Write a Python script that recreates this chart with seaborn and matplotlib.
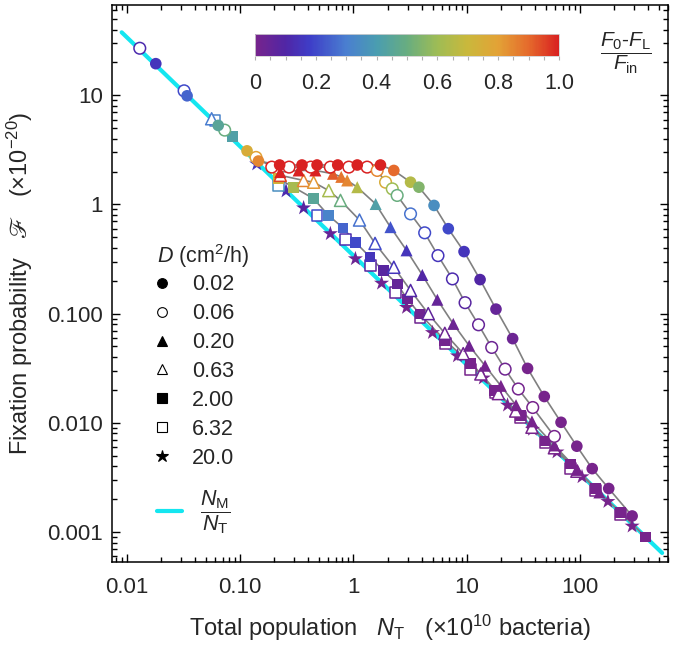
import numpy as np
import pandas as pd
import matplotlib
matplotlib.use("Agg")
import matplotlib.pyplot as plt
import seaborn as sns
from matplotlib.colors import LinearSegmentedColormap, Normalize
from matplotlib.lines import Line2D
from matplotlib.ticker import FixedLocator, FixedFormatter, LogLocator, NullFormatter, MultipleLocator

sns.set_style("ticks")
plt.rcParams["font.family"] = ["Liberation Sans", "DejaVu Sans"]
plt.rcParams["mathtext.fontset"] = "custom"
plt.rcParams["mathtext.rm"] = "Liberation Sans"
plt.rcParams["mathtext.it"] = "Liberation Sans:italic"
plt.rcParams["mathtext.bf"] = "Liberation Sans:bold"
plt.rcParams["mathtext.fallback"] = "stix"

# ---- data ----
# D = 0.02 (filled circles)
nt_002 = [0.018, 0.034, 0.064, 0.115, 0.145, 0.223, 0.351, 0.477, 0.726, 1.08, 1.73, 2.27, 3.19, 3.78,
          5.14, 6.87, 9.46, 13.1, 18.1, 25.4, 34.4, 48.3, 67.9, 93.6, 128, 179, 288]
fp_002 = [19.5, 9.9, 5.3, 3.1, 2.5, 2.3, 2.3, 2.3, 2.3, 2.3, 2.3, 2.05, 1.6, 1.44,
          0.98, 0.60, 0.37, 0.205, 0.11, 0.059, 0.0315, 0.0174, 0.0101, 0.0061, 0.0038, 0.0025, 0.0014]
cv_002 = [0.15, 0.25, 0.45, 0.75, 0.85, 1, 1, 1, 1, 1, 1, 0.9, 0.65, 0.55,
          0.35, 0.2, 0.15, 0.1, 0.05, 0.03, 0, 0, 0, 0, 0, 0, 0]

# D = 0.06 (open circles)
nt_006 = [0.013, 0.032, 0.073, 0.138, 0.19, 0.27, 0.42, 0.625, 0.91, 1.32, 1.62, 1.92, 2.2, 2.43,
          3.19, 4.25, 5.57, 7.47, 9.66, 12.7, 16.6, 21.8, 28.5, 38.2, 59.3]
fp_006 = [27, 11, 4.8, 2.7, 2.2, 2.2, 2.2, 2.2, 2.2, 2.2, 2.05, 1.6, 1.39, 1.21,
          0.82, 0.55, 0.34, 0.208, 0.126, 0.079, 0.049, 0.031, 0.0204, 0.0138, 0.0075]
cv_006 = [0.12, 0.2, 0.5, 0.8, 1, 1, 1, 1, 1, 1, 0.85, 0.75, 0.6, 0.5,
          0.28, 0.2, 0.15, 0.12, 0.08, 0.05, 0.03, 0.02, 0.01, 0, 0]

# D = 0.20 (filled triangles)
nt_020 = [0.226, 0.328, 0.461, 0.66, 0.78, 0.88, 1.08, 1.57, 2.12, 2.94, 4.05, 5.5, 7.6, 10.5,
          14.5, 20, 27.2, 37.6, 59.3, 95, 148]
fp_020 = [1.98, 2.05, 2.05, 1.91, 1.79, 1.66, 1.44, 1.01, 0.62, 0.38, 0.226, 0.134, 0.0805, 0.0508,
          0.0333, 0.0218, 0.0145, 0.0103, 0.0062, 0.0037, 0.0023]
cv_020 = [1, 1, 1, 0.92, 0.88, 0.85, 0.65, 0.42, 0.22, 0.15, 0.1, 0.05, 0.03, 0.02,
          0.01, 0, 0, 0, 0, 0, 0]

# D = 0.63 (open triangles)
nt_063 = [0.056, 0.226, 0.363, 0.445, 0.605, 0.768, 1.13, 1.55, 2.27, 3.19, 4.57, 6.4, 9.3, 13.3,
          19, 27, 37.6, 59.3, 93.6]
fp_063 = [6.1, 1.85, 1.66, 1.6, 1.34, 1.09, 0.72, 0.44, 0.266, 0.163, 0.10, 0.066, 0.043, 0.028,
          0.0185, 0.0128, 0.0091, 0.0059, 0.0036]
cv_063 = [0.3, 0.95, 0.85, 0.82, 0.62, 0.5, 0.28, 0.2, 0.15, 0.1, 0.06, 0.03, 0.02, 0.01,
          0, 0, 0, 0, 0]

# D = 2.00 (filled squares)
nt_200 = [0.085, 0.218, 0.296, 0.445, 0.605, 0.81, 1.04, 1.4, 1.83, 2.43, 2.98, 3.86, 6.4, 10.8,
          17.7, 29.6, 49, 81.7, 136, 228, 378]
fp_200 = [4.2, 1.72, 1.44, 1.13, 0.79, 0.61, 0.45, 0.33, 0.248, 0.187, 0.136, 0.099, 0.057, 0.035,
          0.0199, 0.0116, 0.0068, 0.0042, 0.0025, 0.0015, 0.0009]
cv_200 = [0.42, 0.72, 0.62, 0.45, 0.32, 0.25, 0.2, 0.15, 0.08, 0.05, 0.03, 0.02, 0.01, 0,
          0, 0, 0, 0, 0, 0, 0]

# D = 6.32 (open squares)
nt_632 = [0.06, 0.218, 0.476, 0.85, 1.41, 2.36, 3.86, 6.5, 10.8, 17.8, 29.6, 49, 81.7, 136, 228]
fp_632 = [5.9, 1.49, 0.79, 0.474, 0.275, 0.157, 0.092, 0.053, 0.031, 0.019, 0.0112, 0.0066,
          0.0038, 0.0024, 0.00145]
cv_632 = [0.32, 0.35, 0.2, 0.12, 0.08, 0.05, 0.02, 0.01, 0, 0, 0, 0, 0, 0, 0]

# D = 20.0 (stars)
nt_20 = [0.14, 0.254, 0.363, 0.625, 1.04, 1.77, 2.94, 4.98, 8.28, 14, 22.9, 38, 62.5, 104, 176, 288]
fp_20 = [2.35, 1.33, 0.93, 0.54, 0.318, 0.19, 0.114, 0.067, 0.041, 0.0257, 0.0145, 0.0087,
         0.0054, 0.0032, 0.0019, 0.00113]
cv_20 = [0.15, 0.12, 0.08, 0.05, 0.03, 0.02, 0.01, 0, 0, 0, 0, 0, 0, 0, 0, 0]

# N_M / N_T reference line
n_m = 0.34
nt_ref = [0.009, 530]

d_labels = ["0.02", "0.06", "0.20", "0.63", "2.00", "6.32", "20.0"]

x_ticks = [0.01, 0.1, 1, 10, 100]
x_ticklabels = ["0.01", "0.10", "1", "10", "100"]
y_ticks = [0.001, 0.01, 0.1, 1, 10]
y_ticklabels = ["0.001", "0.010", "0.100", "1", "10"]

# ---- style ----
cmap = LinearSegmentedColormap.from_list("rainbow_m", [
    (0.00, "#77248c"), (0.10, "#5026a6"), (0.18, "#3e3ec8"), (0.30, "#4a7fd0"),
    (0.40, "#4a9db0"), (0.50, "#68ad80"), (0.60, "#9ebc55"), (0.70, "#cab83c"),
    (0.80, "#e3a236"), (0.90, "#e56b2c"), (1.00, "#d92121")])
norm = Normalize(0, 1)
cyan = "#14e6f0"

fig = plt.figure(figsize=(6.75, 6.46), dpi=100)
ax = fig.add_axes([0.166, 0.130, 0.824, 0.862])

ref = pd.DataFrame({"nt": nt_ref, "f": [n_m / v for v in nt_ref]})
sns.lineplot(data=ref, x="nt", y="f", color=cyan, lw=3, ax=ax, zorder=1)

series = [
    (nt_20, fp_20, cv_20, "*", False, 130, None),
    (nt_632, fp_632, cv_632, "s", True, 60, None),
    (nt_200, fp_200, cv_200, "s", False, 60, 1),
    (nt_063, fp_063, cv_063, "^", True, 75, 1),
    (nt_020, fp_020, cv_020, "^", False, 75, 0),
    (nt_006, fp_006, cv_006, "o", True, 70, 3),
    (nt_002, fp_002, cv_002, "o", False, 70, 3),
]

for nt, fp, cv, mk, hollow, size, line_from in series:
    df = pd.DataFrame({"nt": nt, "f": fp, "c": cv})
    if line_from is not None:
        sns.lineplot(data=df.iloc[line_from:], x="nt", y="f", color="#808080", lw=1.2,
                     sort=True, estimator=None, ax=ax, zorder=2)
    sns.scatterplot(data=df, x="nt", y="f", hue="c", palette=cmap, hue_norm=(0, 1),
                    marker=mk, s=size, linewidth=0, legend=False, ax=ax, zorder=3)
    if hollow:
        coll = ax.collections[-1]
        fc = coll.get_facecolors()
        coll.set_facecolor("white")
        coll.set_edgecolor(fc)
        coll.set_linewidth(1.1)

ax.set_xscale("log")
ax.set_yscale("log")
ax.set_xlim(0.0074, 600)
ax.set_ylim(0.00053, 67)

ax.xaxis.set_major_locator(FixedLocator(x_ticks))
ax.xaxis.set_major_formatter(FixedFormatter(x_ticklabels))
ax.yaxis.set_major_locator(FixedLocator(y_ticks))
ax.yaxis.set_major_formatter(FixedFormatter(y_ticklabels))
ax.xaxis.set_minor_locator(LogLocator(base=10, subs=np.arange(2, 10), numticks=20))
ax.yaxis.set_minor_locator(LogLocator(base=10, subs=np.arange(2, 10), numticks=20))
ax.xaxis.set_minor_formatter(NullFormatter())
ax.yaxis.set_minor_formatter(NullFormatter())
ax.tick_params(which="both", direction="in", top=True, right=True, color="black",
               width=1, labelsize=16)
ax.tick_params(axis="x", pad=10.5)
ax.tick_params(axis="y", pad=6.5)
ax.tick_params(which="major", length=6)
ax.tick_params(which="minor", length=3.5)
for sp in ax.spines.values():
    sp.set_linewidth(1.1)
    sp.set_color("black")

ax.set_xlabel(r"Total population   $N_\mathrm{T}$   (×10$^{10}$ bacteria)", fontsize=17, labelpad=11)
ax.set_ylabel("Fixation probability   $\u2131$   (×10$^{-20}$)", fontsize=17, labelpad=9)

# legend for D values
markers = ["o", "o", "^", "^", "s", "s", "*"]
hollows = [False, True, False, True, False, True, False]
msizes = [7, 7, 7.5, 7.5, 6.5, 6.5, 9]
handles = [Line2D([], [], ls="none", marker=m, ms=s, mec="black", mew=0.8,
                  mfc="white" if h else "black")
           for m, h, s in zip(markers, hollows, msizes)]
ax.text(0.081, 0.549, r"$D$ (cm$^2$/h)", transform=ax.transAxes, fontsize=15.5,
        ha="left", va="center")
leg = ax.legend(handles, d_labels, loc="upper left",
                bbox_to_anchor=(0.081, 0.517), frameon=False, fontsize=15.5,
                handlelength=0.47, handletextpad=1.16, labelspacing=0.37,
                borderpad=0, borderaxespad=0)
ax.add_artist(leg)
leg2 = ax.legend([Line2D([], [], color=cyan, lw=3)],
                 [r"$\dfrac{N_\mathrm{M}}{N_\mathrm{T}}$"], loc="center left",
                 bbox_to_anchor=(0.081, 0.09), frameon=False, fontsize=15.5,
                 handlelength=1.16, handletextpad=0.84, borderpad=0, borderaxespad=0)

# colorbar
cax = fig.add_axes([0.378, 0.913, 0.450, 0.034])
sm = plt.cm.ScalarMappable(norm=norm, cmap=cmap)
cb = fig.colorbar(sm, cax=cax, orientation="horizontal")
cb.set_ticks([0, 0.2, 0.4, 0.6, 0.8, 1.0])
cb.set_ticklabels(["0", "0.2", "0.4", "0.6", "0.8", "1.0"])
cax.xaxis.set_minor_locator(MultipleLocator(0.05))
cax.tick_params(which="both", direction="out", length=3, color="#b0b0b0", width=0.8,
                labelsize=15.5, pad=9)
cb.outline.set_edgecolor("#d0d0d0")
cb.outline.set_linewidth(0.6)
fig.text(0.927, 0.918, r"$\dfrac{F_0\text{-}F_\mathrm{L}}{F_\mathrm{in}}$", fontsize=15,
         ha="center", va="center")

fig.savefig("out.png", dpi=100)
